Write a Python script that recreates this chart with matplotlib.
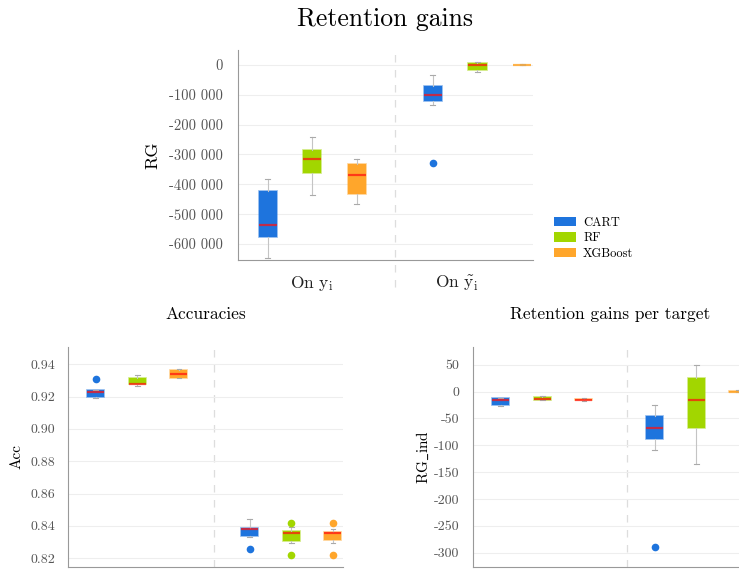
import matplotlib
matplotlib.use("Agg")
import matplotlib.pyplot as plt
from matplotlib.patches import Patch
from matplotlib.ticker import FuncFormatter

plt.rcParams["font.family"] = "cmr10"
plt.rcParams["mathtext.fontset"] = "cm"
plt.rcParams["axes.unicode_minus"] = False

models = ["CART", "RF", "XGBoost"]
colors = ["#1e74dd", "#a2d600", "#ffa62b"]
groups = [r"On $\mathrm{y}_\mathrm{i}$", r"On $\tilde{\mathrm{y}}_\mathrm{i}$"]

# box stats per group, per model: (whislo, q1, med, q3, whishi, outliers)
rg_stats = [
    [(-648000, -575000, -537000, -421000, -383000, []),
     (-436000, -363000, -314000, -285000, -242000, []),
     (-467000, -431000, -369000, -332000, -315000, [])],
    [(-135000, -119600, -101600, -70400, -33500, [-329600]),
     (-24500, -19000, -1000, 5600, 9000, []),
     (-1500, -800, 0, 800, 1500, [])],
]
acc_stats = [
    [(0.9193, 0.9198, 0.9229, 0.9239, 0.9240, [0.9309]),
     (0.9266, 0.9276, 0.9280, 0.9313, 0.9334, []),
     (0.9313, 0.9317, 0.9340, 0.9365, 0.9369, [])],
    [(0.8334, 0.8338, 0.8380, 0.8386, 0.8443, [0.8256]),
     (0.8293, 0.8305, 0.8357, 0.8371, 0.8392, [0.8420, 0.8222]),
     (0.8297, 0.8315, 0.8357, 0.8363, 0.8380, [0.8420, 0.8222])],
]
rgind_stats = [
    [(-27.5, -25.6, -16.3, -12.6, -12.0, []),
     (-16.0, -15.2, -14.4, -10.2, -8.9, []),
     (-18.0, -16.3, -15.2, -13.3, -12.7, [])],
    [(-109.4, -88.9, -68.4, -46.0, -25.6, [-290.0]),
     (-135.5, -67.3, -16.3, 25.2, 49.4, []),
     (-1.0, -1.0, 0.0, 1.5, 2.0, [])],
]

rg_ticks = [0, -100000, -200000, -300000, -400000, -500000, -600000]
acc_ticks = [0.82, 0.84, 0.86, 0.88, 0.90, 0.92, 0.94]
rgind_ticks = [50, 0, -50, -100, -150, -200, -250, -300]

offsets = [-0.27, 0.0, 0.27]
XLIM = (-0.45, 1.335)


def draw_boxes(ax, stats, sep=0.5, sep_below=0.0):
    for g, group in enumerate(stats):
        for m, s in enumerate(group):
            lo, q1, med, q3, hi, fl = s
            d = dict(whislo=lo, q1=q1, med=med, q3=q3, whishi=hi, fliers=fl)
            # flat boxes (the last XGBoost one) show mostly their outline
            flat = (q3 - q1) < 0.01 * (ax.get_ylim()[1] - ax.get_ylim()[0]) and g == 1 and m == 2
            ax.bxp([d], positions=[g + offsets[m]], widths=0.11,
                   capwidths=0.03, patch_artist=True, manage_ticks=False,
                   boxprops=dict(facecolor=colors[m], edgecolor=colors[m] + "88",
                                 linewidth=1.2),
                   medianprops=dict(color=colors[m] if flat else "#ff1010",
                                    alpha=0.72, linewidth=1.6),
                   whiskerprops=dict(color="#c4c4c4", linewidth=0.8),
                   capprops=dict(color="#aaaaaa", linewidth=0.8),
                   flierprops=dict(marker="o", markerfacecolor=colors[m],
                                   markeredgecolor="none", markersize=5.5))
    ax.set_xlim(*XLIM)
    ax.axvline(sep, ymin=sep_below, ymax=1, color="#dddddd", linestyle=(0, (6, 6)),
               linewidth=0.9, clip_on=False, zorder=0)
    ax.grid(axis="y", color="#eeeeee", linewidth=0.8)
    ax.set_axisbelow(True)
    for side in ["top", "right"]:
        ax.spines[side].set_visible(False)
    for side in ["left", "bottom"]:
        ax.spines[side].set_color("#999999")
    ax.tick_params(length=0, labelsize=10, colors="#555555")


fig = plt.figure(figsize=(7.39, 5.73), dpi=100)

# top: retention gains
ax1 = fig.add_axes([0.322, 0.546, 0.399, 0.367])
ax1.set_ylim(-654000, 50000)
draw_boxes(ax1, rg_stats, sep_below=-0.13)
ax1.set_yticks(rg_ticks)
ax1.yaxis.set_major_formatter(FuncFormatter(
    lambda v, p: "0" if v == 0 else f"{int(v):,}".replace(",", " ")))
ax1.set_xticks([0.0, 0.875])
ax1.set_xticklabels(groups, fontsize=12.5, color="#222222")
ax1.tick_params(axis="y", pad=11, labelsize=10.5)
ax1.tick_params(axis="x", pad=10)
ax1.set_ylabel("RG", fontsize=13, labelpad=6)
ax1.set_title("Retention gains", fontsize=18.5, pad=17)

handles = [Patch(facecolor=c, label=n) for c, n in zip(colors, models)]
fig.legend(handles=handles, loc="upper left", bbox_to_anchor=(0.735, 0.642),
           frameon=False, fontsize=9, handlelength=1.7, handleheight=0.75,
           labelspacing=0.3, handletextpad=0.6)

# bottom left: accuracies
ax2 = fig.add_axes([0.092, 0.0105, 0.372, 0.384])
ax2.set_ylim(0.8146, 0.9507)
draw_boxes(ax2, acc_stats)
ax2.set_yticks(acc_ticks)
ax2.yaxis.set_major_formatter(FuncFormatter(lambda v, p: f"{v:.2f}"))
ax2.set_xticks([])
ax2.tick_params(axis="y", pad=9)
ax2.set_ylabel("Acc", fontsize=11, labelpad=5)
ax2.set_title("Accuracies", fontsize=12.5, pad=20)

# bottom right: retention gains per target
ax3 = fig.add_axes([0.640, 0.0105, 0.372, 0.384])
ax3.set_ylim(-326.6, 83)
draw_boxes(ax3, rgind_stats, sep=0.55)
ax3.set_yticks(rgind_ticks)
ax3.yaxis.set_major_formatter(FuncFormatter(lambda v, p: f"{int(v)}"))
ax3.set_xticks([])
ax3.tick_params(axis="y", pad=10)
ax3.set_ylabel(r"RG$\_$ind", fontsize=11, labelpad=2)
ax3.set_title("Retention gains per target", fontsize=12.5, pad=20)

fig.savefig("out.png", dpi=100)
